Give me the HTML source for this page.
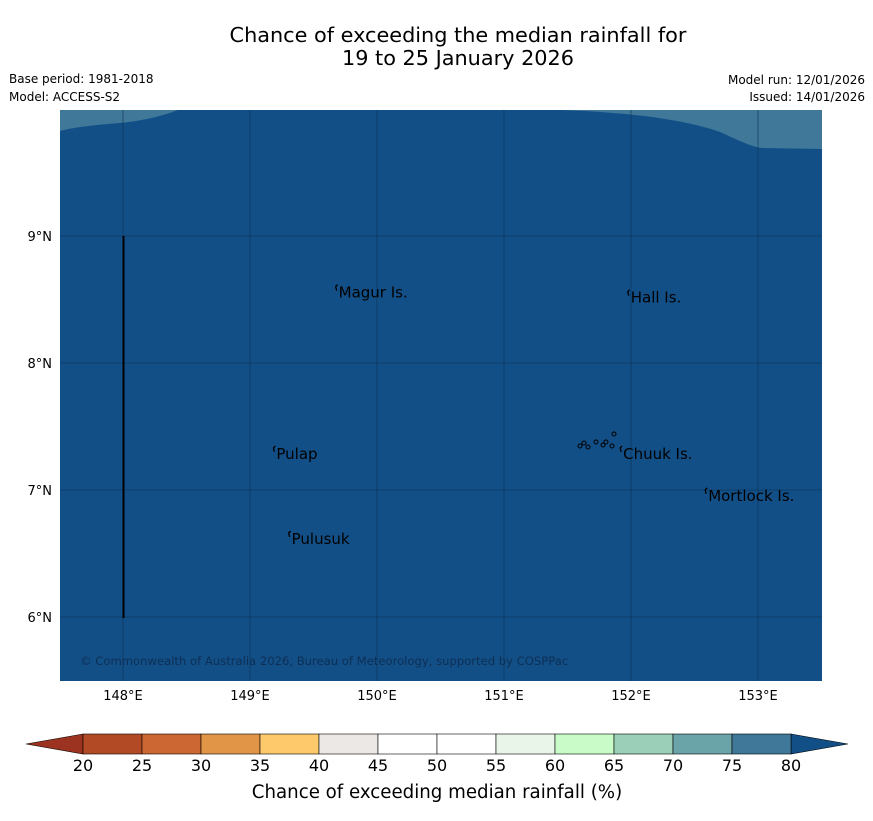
<!DOCTYPE html>
<html><head><meta charset="utf-8"><style>
body{margin:0;background:#fff;font-family:"Liberation Sans","DejaVu Sans",sans-serif}
svg text{font-family:"DejaVu Sans","Liberation Sans",sans-serif}
</style></head><body>
<svg id="chart" width="873" height="816" viewBox="0 0 873 816" xmlns="http://www.w3.org/2000/svg">
<rect width="873" height="816" fill="#fff"/>
<text x="458" y="42" font-size="20.8" text-anchor="middle">Chance of exceeding the median rainfall for</text>
<text x="458" y="65" font-size="20.8" text-anchor="middle">19 to 25 January 2026</text>
<text x="9" y="83" font-size="12">Base period: 1981-2018</text>
<text x="9" y="101" font-size="12">Model: ACCESS-S2</text>
<text x="865" y="84" font-size="12" text-anchor="end">Model run: 12/01/2026</text>
<text x="865" y="101" font-size="12" text-anchor="end">Issued: 14/01/2026</text>
<g id="map">
<rect x="60" y="110" width="762" height="571" fill="#134f87"/>
<path d="M60,110 L178,110 C160,117 140,121 120,123 C95,125 75,127 60,131 Z" fill="#3f7898"/>
<path d="M560,110 C620,112 680,118 720,132 C740,141 752,147 762,148 L822,149 L822,110 Z" fill="#3f7898"/>
<g id="grid"></g>
<line x1="123.5" y1="236" x2="123.5" y2="618" stroke="#000" stroke-width="2"/>
<g id="islands"></g>
<text x="80" y="665" font-size="11.6" fill="#0d2f55">© Commonwealth of Australia 2026, Bureau of Meteorology, supported by COSPPac</text>
</g>
<g id="axes"></g>
<g id="colorbar"></g>
<text x="437" y="798" font-size="18.2" text-anchor="middle">Chance of exceeding median rainfall (%)</text>
</svg>
<script>
const lonTicks=[148,149,150,151,152,153];
const latTicks=[9,8,7,6];
const islandNames=["Magur Is.","Hall Is.","Pulap","Chuuk Is.","Mortlock Is.","Pulusuk"];
const islandLon=[149.69,151.99,149.2,151.93,152.6,149.32];
const islandLat=[8.57,8.53,7.3,7.3,6.97,6.63];
const cbLevels=[20,25,30,35,40,45,50,55,60,65,70,75,80];
const cbColors=["#b34a26","#cc6633","#e09547","#fdc96b","#ece8e5","#ffffff","#ffffff","#eaf5e9","#c9fbc9","#9bcfb8","#6aa3a8","#3f7898"];
const underColor="#9b3320", overColor="#134f87";
const NS="http://www.w3.org/2000/svg";
const X=lon=>123+(lon-148)*127;
const Y=lat=>236+(9-lat)*127;
function mk(tag,attrs,parent){const e=document.createElementNS(NS,tag);for(const k in attrs)e.setAttribute(k,attrs[k]);parent.appendChild(e);return e;}
const grid=document.getElementById('grid'),axes=document.getElementById('axes'),isl=document.getElementById('islands'),cb=document.getElementById('colorbar');
lonTicks.forEach(l=>{
 const g=mk('line',{x1:X(l),x2:X(l),y1:110,y2:681,stroke:"#0a2e50","stroke-width":0.8,"stroke-opacity":0.7},grid);
 
 
 const t=mk('text',{x:X(l),y:700,"font-size":13,"text-anchor":"middle"},axes);t.textContent=l+"°E";
 
 
});
latTicks.forEach(l=>{
 const g=mk('line',{x1:60,x2:822,y1:Y(l),y2:Y(l),stroke:"#0a2e50","stroke-width":0.8,"stroke-opacity":0.7},grid);
 
 
 const t=mk('text',{x:52,y:Y(l)+5,"font-size":13,"text-anchor":"end"},axes);t.textContent=l+"°N";
 
 
});
islandNames.forEach((n,i)=>{
 const x=X(islandLon[i]),y=Y(islandLat[i]);
 const t=mk('text',{x:x+1,y:y+7,"font-size":15},isl);t.textContent=n;
 
 
 const m=mk('path',{d:`M${x-1},${y} l-1,-4 l2,-2`,stroke:"#000","stroke-width":1.3,fill:"none"},isl);
 
 
});
[[580,446],[584,443],[588,447],[596,442],[606,442],[614,434],[612,446],[603,445]].forEach(p=>{
 const c=mk('circle',{cx:p[0],cy:p[1],r:2,fill:"none",stroke:"#000","stroke-width":1},isl);
 
 
});
const cbX0=83,cbX1=791,cbY=734,cbH=20;
const CX=v=>cbX0+(v-cbLevels[0])/(cbLevels[cbLevels.length-1]-cbLevels[0])*(cbX1-cbX0);
const u=mk('polygon',{points:`${cbX0},${cbY} 26,${cbY+cbH/2} ${cbX0},${cbY+cbH}`,fill:underColor,stroke:"#000","stroke-width":0.6},cb);


const o=mk('polygon',{points:`${cbX1},${cbY} 848,${cbY+cbH/2} ${cbX1},${cbY+cbH}`,fill:overColor,stroke:"#000","stroke-width":0.6},cb);


cbColors.forEach((c,i)=>{
 const r=mk('rect',{x:CX(cbLevels[i]),y:cbY,width:CX(cbLevels[i+1])-CX(cbLevels[i]),height:cbH,fill:c,stroke:"#000","stroke-width":0.6},cb);
 
 
});
cbLevels.forEach(v=>{
 const t=mk('text',{x:CX(v),y:771,"font-size":16,"text-anchor":"middle"},cb);t.textContent=v;
 
 
});
</script>
</body></html>
